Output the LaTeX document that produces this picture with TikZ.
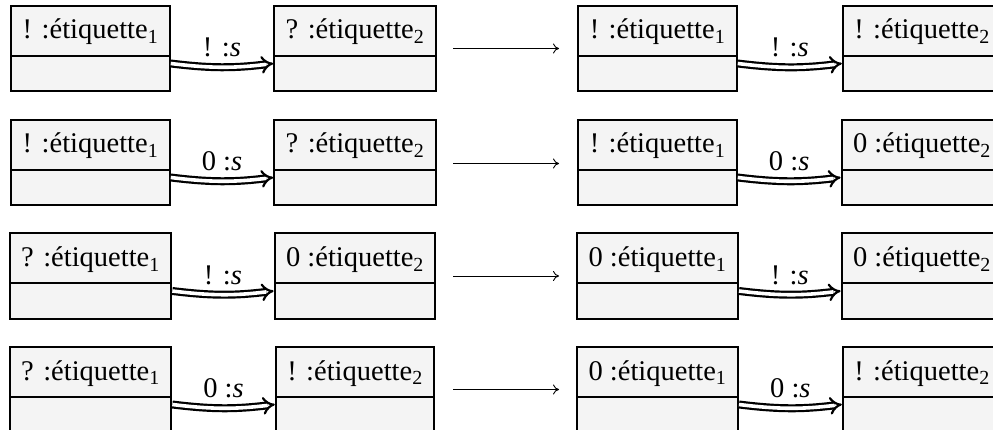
\documentclass[tikz,border=0pt]{standalone}
\usepackage{fontspec}
\setmainfont{Liberation Serif}[ItalicFont={Liberation Serif Italic}]
\usetikzlibrary{shapes.multipart,arrows.meta,calc}
\definecolor{boxgray}{HTML}{F4F4F4}
\newcommand\etq[2]{\rule[-16pt]{0pt}{48pt}#1 :étiquette\textsubscript{#2}\nodepart{two}\rule{0pt}{33pt}}
\tikzset{
  objbox/.style={rectangle split, rectangle split parts=2, draw=black, line width=2pt,
    fill=boxgray, inner xsep=11.5pt, inner ysep=0pt, font=\fontsize{28.5}{34}\selectfont},
  msg/.style={double, double distance=3.6pt, line width=2.2pt, -{Implies}, bend right=7},
  lbl/.style={midway, above=9pt, inner sep=0pt, font=\fontsize{28.5}{34}\selectfont},
  trans/.style={line width=0.9pt, -{To[length=6pt,width=10pt]}}
}
\begin{document}
\begin{tikzpicture}[x=1pt,y=-1pt]
\useasboundingbox (0,0) rectangle (993,430);
\clip (0,0) rectangle (993,430);
% row 1
\node[objbox] (a1) at (90.5,48.5) {\etq{!}{1}};
\node[objbox] (b1) at (355,48.5) {\etq{?}{2}};
\node[objbox] (c1) at (657.5,48.5) {\etq{!}{1}};
\node[objbox] (d1) at (922,48.5) {\etq{!}{2}};
% row 2
\node[objbox] (a2) at (90.5,162.5) {\etq{!}{1}};
\node[objbox] (b2) at (355,162.5) {\etq{?}{2}};
\node[objbox] (c2) at (657.5,162.5) {\etq{!}{1}};
\node[objbox] (d2) at (922,162.5) {\etq{0}{2}};
% row 3
\node[objbox] (a3) at (90.5,276) {\etq{?}{1}};
\node[objbox] (b3) at (355,276) {\etq{0}{2}};
\node[objbox] (c3) at (657.5,276) {\etq{0}{1}};
\node[objbox] (d3) at (922,276) {\etq{0}{2}};
% row 4
\node[objbox] (a4) at (90.5,389.5) {\etq{?}{1}};
\node[objbox] (b4) at (355,389.5) {\etq{!}{2}};
\node[objbox] (c4) at (657.5,389.5) {\etq{0}{1}};
\node[objbox] (d4) at (922,389.5) {\etq{!}{2}};
% messages
\draw[msg] ($(a1.east)+(0,-15pt)$) to node[lbl]{! :\textit{s}} ($(b1.west)+(0,-15pt)$);
\draw[msg] ($(c1.east)+(0,-15pt)$) to node[lbl]{! :\textit{s}} ($(d1.west)+(0,-15pt)$);
\draw[msg] ($(a2.east)+(0,-15pt)$) to node[lbl]{0 :\textit{s}} ($(b2.west)+(0,-15pt)$);
\draw[msg] ($(c2.east)+(0,-15pt)$) to node[lbl]{0 :\textit{s}} ($(d2.west)+(0,-15pt)$);
\draw[msg] ($(a3.east)+(0,-15pt)$) to node[lbl]{! :\textit{s}} ($(b3.west)+(0,-15pt)$);
\draw[msg] ($(c3.east)+(0,-15pt)$) to node[lbl]{! :\textit{s}} ($(d3.west)+(0,-15pt)$);
\draw[msg] ($(a4.east)+(0,-15pt)$) to node[lbl]{0 :\textit{s}} ($(b4.west)+(0,-15pt)$);
\draw[msg] ($(c4.east)+(0,-15pt)$) to node[lbl]{0 :\textit{s}} ($(d4.west)+(0,-15pt)$);
% transitions
\coordinate (t1s) at (453,48.5);  \coordinate (t1e) at (559,48.5);
\coordinate (t2s) at (453,163.5); \coordinate (t2e) at (559,163.5);
\coordinate (t3s) at (453,276);   \coordinate (t3e) at (559,276);
\coordinate (t4s) at (453,389.5); \coordinate (t4e) at (559,389.5);
\draw[trans] (t1s) -- (t1e);
\draw[trans] (t2s) -- (t2e);
\draw[trans] (t3s) -- (t3e);
\draw[trans] (t4s) -- (t4e);
\end{tikzpicture}
\end{document}
